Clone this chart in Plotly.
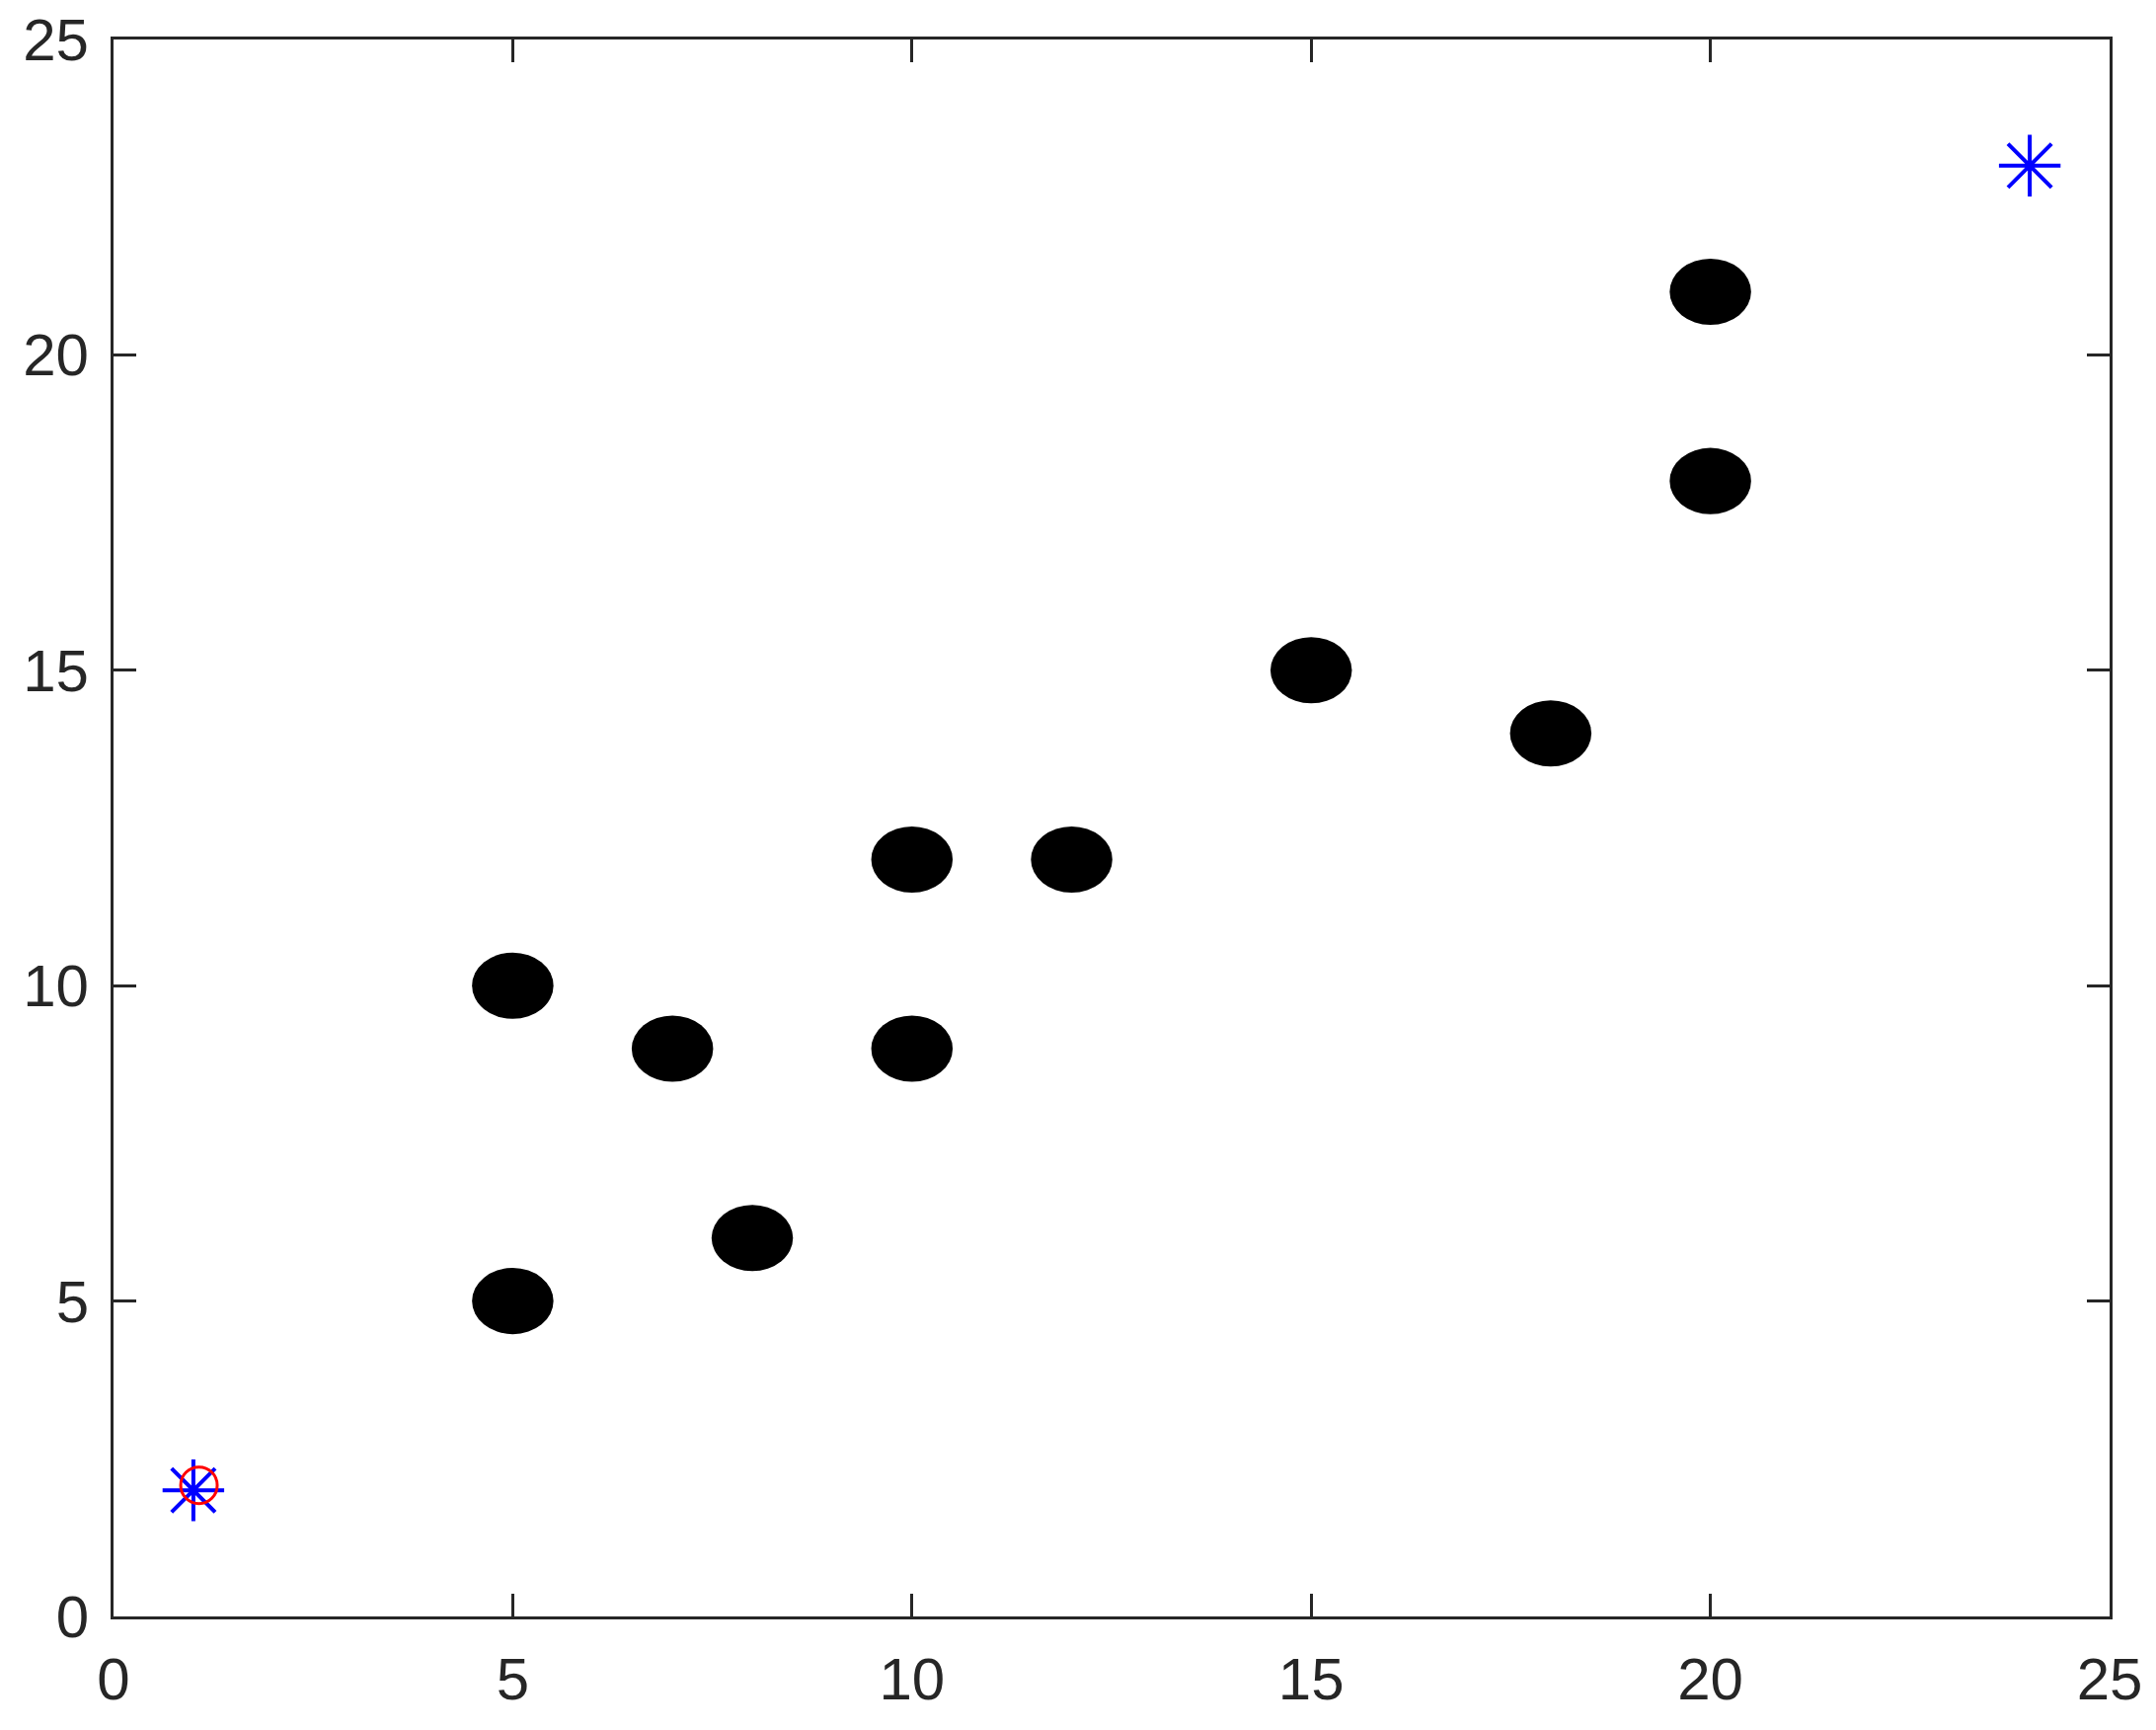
import plotly.graph_objects as go

# obstacle centres
obs_x = [5, 5, 7, 8, 10, 10, 12, 15, 18, 20, 20]
obs_y = [5, 10, 9, 6, 9, 12, 12, 15, 14, 18, 21]
obs_rx = 0.51
obs_ry = 0.525

start_x = [1]
start_y = [2]
robot_x = [1.07]
robot_y = [2.08]
goal_x = [24]
goal_y = [23]

tick_vals = [0, 5, 10, 15, 20, 25]

fig = go.Figure()

for x, y in zip(obs_x, obs_y):
    fig.add_shape(type="circle", xref="x", yref="y",
                  x0=x - obs_rx, x1=x + obs_rx, y0=y - obs_ry, y1=y + obs_ry,
                  fillcolor="black", line=dict(width=0))

fig.add_trace(go.Scatter(x=start_x + goal_x, y=start_y + goal_y, mode="markers",
                         marker=dict(symbol="asterisk-open", size=52, color="blue",
                                     line=dict(color="blue", width=4))))
fig.add_trace(go.Scatter(x=robot_x, y=robot_y, mode="markers",
                         marker=dict(symbol="circle-open", size=37, color="red",
                                     line=dict(color="red", width=3))))

axis = dict(range=[0, 25], tickvals=tick_vals, showline=True, mirror="ticks",
            linecolor="#262626", linewidth=3, ticks="inside", ticklen=23, tickwidth=2.5,
            tickcolor="#262626", showgrid=False, zeroline=False, automargin=False,
            ticklabeloverflow="allow",
            tickfont=dict(family="Liberation Sans, Arial", size=60, color="#262626"))

# page body has an 8px margin, so the figure is 8px smaller
fig.update_layout(width=2176, height=1744, showlegend=False,
                  plot_bgcolor="white", paper_bgcolor="white",
                  margin=dict(l=107, r=47, t=32, b=115),
                  xaxis=dict(axis, ticklabelstandoff=9), yaxis=dict(axis, ticklabelstandoff=10))

fig.write_html("out.html")
